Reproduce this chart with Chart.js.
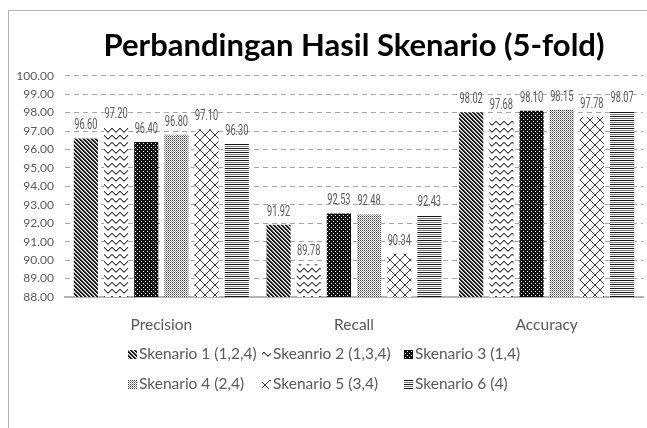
<!DOCTYPE html>
<html>
<head>
<meta charset="utf-8">
<script src="https://cdn.jsdelivr.net/npm/chart.js@4.4.1/dist/chart.umd.min.js"></script>
<style>
  html, body { margin: 0; padding: 0; background: #fff; }
  #frame { position: absolute; left: 8px; top: 10px; width: 700px; height: 500px;
           border-left: 1px solid #b4b4b4; border-top: 1px solid #b4b4b4; }
  #chart { position: absolute; left: 0; top: 0; }
</style>
</head>
<body>
<div id="frame"></div>
<canvas id="chart" width="647" height="428"></canvas>
<script>
const categories = ["Precision", "Recall", "Accuracy"];
const seriesNames = ["Skenario 1 (1,2,4)", "Skeanrio 2 (1,3,4)", "Skenario 3 (1,4)",
                     "Skenario 4 (2,4)", "Skenario 5 (3,4)", "Skenario 6 (4)"];
const skenario1 = [96.60, 91.92, 98.02];
const skenario2 = [97.20, 89.78, 97.68];
const skenario3 = [96.40, 92.53, 98.10];
const skenario4 = [96.80, 92.48, 98.15];
const skenario5 = [97.10, 90.34, 97.78];
const skenario6 = [96.30, 92.43, 98.07];
const yMin = 88, yMax = 100, yStep = 1;

// little pixel tiles for the black & white fills
function makeTile(n, m, pick) {
  const c = document.createElement("canvas");
  c.width = n; c.height = m;
  const g = c.getContext("2d");
  g.fillStyle = "#fff";
  g.fillRect(0, 0, n, m);
  for (let x = 0; x < n; x++) {
    for (let y = 0; y < m; y++) {
      const col = pick(x, y);
      if (col) { g.fillStyle = col; g.fillRect(x, y, 1, 1); }
    }
  }
  return g.createPattern(c, "repeat");
}

const waveY = [2, 3, 4, 5, 5, 4, 3, 2];
const patterns = [
  makeTile(4, 4, (x, y) => { const d = (x - y + 8) % 4; return d < 2 ? "#1a1a1a" : (d === 2 ? "#a0a0a0" : null); }),
  makeTile(8, 7, (x, y) => y === waveY[x] ? "#3a3a3a" : (y === (waveY[x] + 1) % 7 ? "#a8a8a8" : null)),
  makeTile(4, 4, (x, y) => (x === 1 && y === 1) || (x === 3 && y === 3) ? "#ffffff" : "#111"),
  makeTile(2, 2, (x, y) => x === 0 && y === 0 ? "#3c3c3c" : (x === 1 && y === 1 ? "#9a9a9a" : null)),
  makeTile(10, 10, (x, y) => (x === y || x + y === 9) ? "#3a3a3a" : null),
  makeTile(4, 4, (x, y) => y === 0 ? "#151515" : (y === 2 ? "#7a7a7a" : null))
];

const allSeries = [skenario1, skenario2, skenario3, skenario4, skenario5, skenario6];

// value labels above the bars, condensed look
const valueLabels = {
  id: "valueLabels",
  afterDatasetsDraw(chart) {
    const ctx = chart.ctx;
    ctx.save();
    ctx.fillStyle = "#595959";
    ctx.font = "14px Roboto";
    ctx.textAlign = "center";
    ctx.textBaseline = "alphabetic";
    chart.data.datasets.forEach((ds, i) => {
      chart.getDatasetMeta(i).data.forEach((bar, j) => {
        ctx.save();
        ctx.translate(bar.x, bar.y - 9);
        ctx.scale(0.66, 1);
        ctx.fillText(ds.data[j].toFixed(2), 0, 0);
        ctx.restore();
      });
    });
    ctx.restore();
  }
};

// legend in a 3 column grid like the original
const legendCols = [128, 262, 404];
const legendRows = [354, 384];
const gridLegend = {
  id: "gridLegend",
  afterDraw(chart) {
    const ctx = chart.ctx;
    ctx.save();
    ctx.font = "15.5px Lato";
    ctx.textBaseline = "middle";
    ctx.textAlign = "left";
    chart.data.datasets.forEach((ds, i) => {
      const x = legendCols[i % 3];
      const y = legendRows[Math.floor(i / 3)];
      ctx.fillStyle = ds.backgroundColor;
      ctx.fillRect(x, y - 4, 9, 9);
      ctx.fillStyle = "#595959";
      ctx.fillText(ds.label, x + 11, y);
    });
    ctx.restore();
  }
};

new Chart(document.getElementById("chart"), {
  type: "bar",
  data: {
    labels: categories,
    datasets: allSeries.map((vals, i) => ({
      label: seriesNames[i],
      data: vals,
      backgroundColor: patterns[i],
      borderWidth: 0,
      categoryPercentage: 0.94,
      barPercentage: 0.8
    }))
  },
  options: {
    responsive: false,
    animation: false,
    devicePixelRatio: 1,
    layout: { padding: { left: 0, right: 4, top: 0, bottom: 91 } },
    plugins: {
      legend: { display: false },
      tooltip: { enabled: false },
      title: {
        display: true,
        fullSize: false,
        text: "Perbandingan Hasil Skenario (5-fold)",
        color: "#000",
        font: { family: "Lato", size: 31, weight: "bold" },
        padding: { top: 27, bottom: 11.5 }
      }
    },
    scales: {
      x: {
        grid: { display: false },
        border: { display: true, color: "#b4b4b4", width: 2 },
        ticks: { color: "#595959", padding: 11, font: { family: "Lato", size: 15.5 } },
        afterFit(scale) { scale.height = 40; }
      },
      y: {
        min: yMin,
        max: yMax,
        ticks: {
          stepSize: yStep,
          color: "#595959",
          padding: 11,
          font: { family: "Lato", size: 12 },
          callback: v => v.toFixed(2)
        },
        grid: {
          drawTicks: false,
          color: ctx => ctx.tick && ctx.tick.value === yMin ? "rgba(0,0,0,0)" : "#a6a6a6",
          lineWidth: 1
        },
        border: { display: false, dash: [5, 4] },
        afterFit(scale) { scale.width = 65; }
      }
    }
  },
  plugins: [valueLabels, gridLegend]
});
</script>
</body>
</html>
